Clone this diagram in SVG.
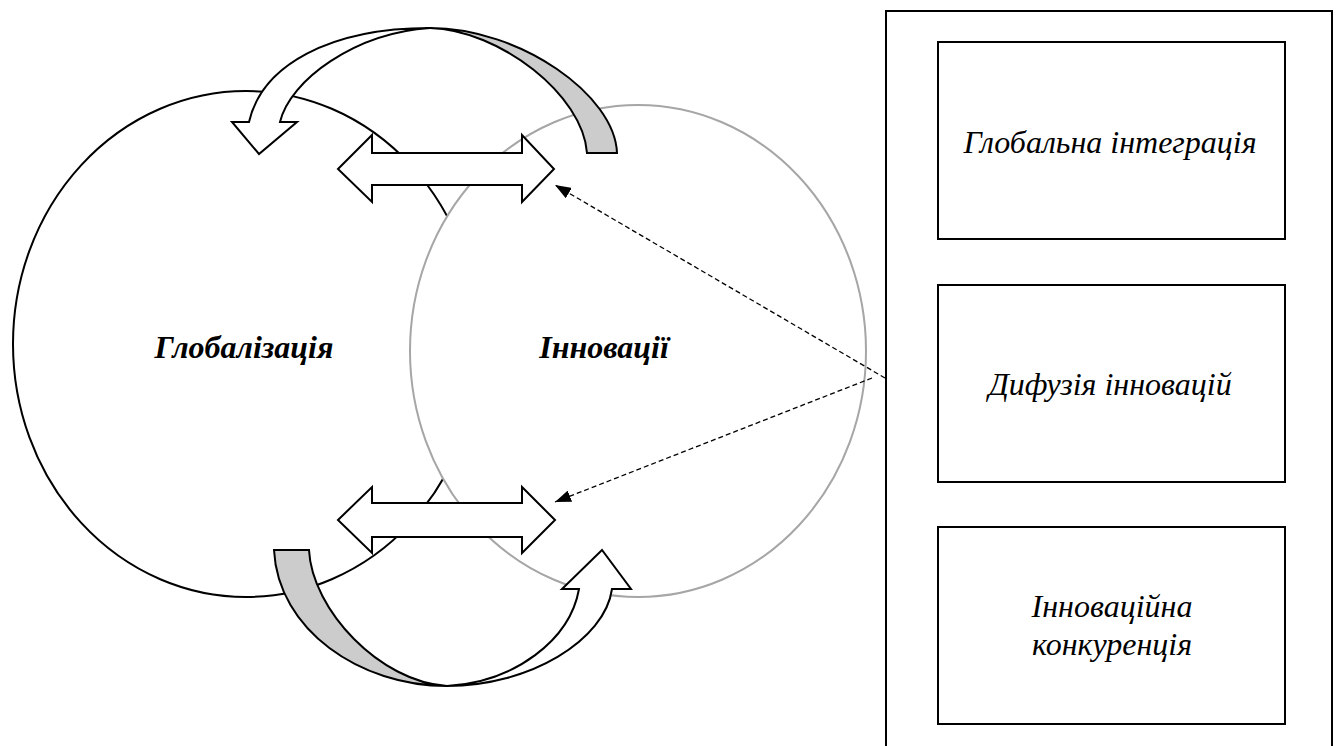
<svg xmlns="http://www.w3.org/2000/svg" width="1336" height="746" viewBox="0 0 1336 746">
<style>
.ln{stroke:#000;stroke-width:2;fill:#fff;stroke-linejoin:miter}
.back{stroke:#000;stroke-width:2;fill:#cccccc}
.box{stroke:#000;stroke-width:2;fill:#fff}
.lbl{font-family:"Liberation Serif","Times New Roman",serif;font-style:italic;font-weight:bold;font-size:32px;text-anchor:middle;fill:#000}
.txt{font-family:"Liberation Serif","Times New Roman",serif;font-style:italic;font-size:32px;text-anchor:middle;fill:#000}
.dash{stroke:#000;stroke-width:1.3;stroke-dasharray:5,3;fill:none}
</style>
<defs>
<marker id="ah" markerUnits="userSpaceOnUse" markerWidth="16" markerHeight="12" refX="16" refY="6" orient="auto">
<path d="M0,0 L16,6 L0,12 Z" fill="#000"/>
</marker>
</defs>
<rect width="1336" height="746" fill="#fff"/>
<g id="globalization">
<ellipse cx="246" cy="344" rx="233" ry="253" class="ln"/>
</g>
<g id="innovations">
<ellipse cx="638" cy="351" rx="228" ry="246" fill="#fff" stroke="#a6a6a6" stroke-width="2"/>
</g>
<g id="connectors">
<g id="curved-top">
<path class="back" d="M617,153 C615,95 520,28 430,28 C500,30 583,95 587,153 Z"/>
<path class="ln" d="M430,28 C330,28 262,65 249,122 L232,122 L259,154 L297,122 L280,122 C290,80 355,33 430,28 Z"/>
</g>
<g id="curved-bottom">
<path class="back" d="M274,550 C278,630 360,686 447,686 C380,682 312,610 309,550 Z"/>
<path class="ln" d="M447,686 C530,686 605,640 612,589 L631,589 L602,550 L562,589 L579,589 C570,640 515,682 447,686 Z"/>
</g>
<polygon class="ln" points="338,169 372,135 372,153 522,153 522,135 554,169 522,202 522,185 372,185 372,202"/>
<polygon class="ln" points="338,520 372,487 372,503 522,503 522,487 555,520 522,553 522,537 372,537 372,553"/>
<line class="dash" x1="885" y1="378" x2="555" y2="185" marker-end="url(#ah)"/>
<line class="dash" x1="872" y1="378" x2="555" y2="502" marker-end="url(#ah)"/>
<polygon fill="#000" points="1108,239 1153,263 1130,263 1130,285 1086,285 1086,263 1063,263"/>
<polygon fill="#000" points="1112,482 1158,505 1135,505 1135,527 1091,527 1091,505 1067,505"/>
</g>
<g id="labels">
<text class="lbl" x="244" y="358">Глобалізація</text>
<text class="lbl" x="604" y="358">Інновації</text>
</g>
<g id="panel">
<rect x="886" y="11" width="446" height="745" class="box"/>
</g>
<g id="global-integration">
<rect x="938" y="42" width="347" height="197" class="box"/>
<text class="txt" x="1110" y="153">Глобальна інтеграція</text>
</g>
<g id="diffusion">
<rect x="938" y="285" width="347" height="197" class="box"/>
<text class="txt" x="1110" y="395">Дифузія інновацій</text>
</g>
<g id="competition">
<rect x="938" y="527" width="347" height="197" class="box"/>
<text class="txt" x="1112" y="617">Інноваційна</text>
<text class="txt" x="1112" y="655">конкуренція</text>
</g>
</svg>
